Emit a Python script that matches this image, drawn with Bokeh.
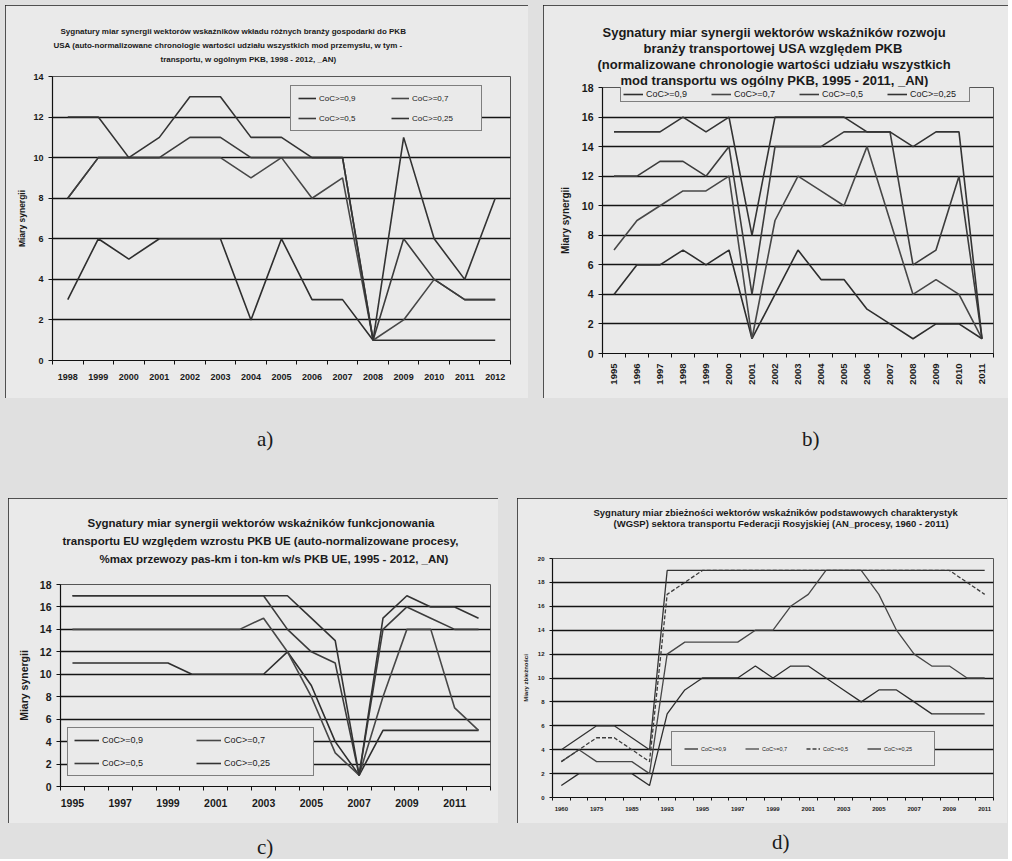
import math
from bokeh.plotting import figure
from bokeh.models import Title, Legend, LegendItem, FixedTicker, Range1d, Div
from bokeh.layouts import row, column
from bokeh.embed import file_html
from bokeh.resources import INLINE

FONT = "Liberation Sans"
PAGE_BG = "#e0e0e0"
PANEL_BG = "#eaeaea"
LINE_COLORS = ["#2e2e2e", "#474747", "#3c3c3c", "#333333"]

legend_labels = ["CoC>=0,9", "CoC>=0,7", "CoC>=0,5", "CoC>=0,25"]

# ---------------- panel a ----------------
a_title = ["Sygnatury miar synergii wektorów wskaźników wkładu różnych branży gospodarki do PKB",
           "USA (auto-normalizowane chronologie wartości udziału wszystkich mod przemysłu, w tym -",
           "transportu, w ogólnym PKB, 1998 - 2012, _AN)"]
a_years = list(range(1998, 2013))
a_s90 = [3, 6, 5, 6, 6, 6, 2, 6, 3, 3, 1, 1, 1, 1, 1]
a_s70 = [8, 10, 10, 10, 10, 10, 9, 10, 8, 9, 1, 2, 4, 3, 3]
a_s50 = [8, 10, 10, 10, 11, 11, 10, 10, 10, 10, 1, 6, 4, 3, 3]
a_s25 = [12, 12, 10, 11, 13, 13, 11, 11, 10, 10, 1, 11, 6, 4, 8]

# ---------------- panel b ----------------
b_title = ["Sygnatury miar synergii wektorów wskaźników rozwoju",
           "branży transportowej USA względem PKB",
           "(normalizowane chronologie wartości udziału wszystkich",
           "mod transportu ws ogólny PKB, 1995 - 2011, _AN)"]
b_years = list(range(1995, 2012))
b_s90 = [4, 6, 6, 7, 6, 7, 1, 4, 7, 5, 5, 3, 2, 1, 2, 2, 1]
b_s70 = [7, 9, 10, 11, 11, 12, 1, 9, 12, 11, 10, 14, 9, 4, 5, 4, 1]
b_s50 = [12, 12, 13, 13, 12, 14, 4, 14, 14, 14, 15, 15, 15, 6, 7, 12, 1]
b_s25 = [15, 15, 15, 16, 15, 16, 8, 16, 16, 16, 16, 15, 15, 14, 15, 15, 1]

# ---------------- panel c ----------------
c_title = ["Sygnatury miar synergii wektorów wskaźników funkcjonowania",
           "transportu EU względem wzrostu PKB UE (auto-normalizowane procesy,",
           "%max przewozy pas-km i ton-km w/s PKB UE, 1995 - 2012, _AN)"]
c_years = list(range(1995, 2013))
c_s90 = [11, 11, 11, 11, 11, 10, 10, 10, 10, 12, 9, 4, 1, 5, 5, 5, 5, 5]
c_s70 = [14, 14, 14, 14, 14, 14, 14, 14, 15, 12, 8, 3, 1, 8, 14, 14, 7, 5]
c_s50 = [17, 17, 17, 17, 17, 17, 17, 17, 17, 14, 12, 11, 1, 14, 16, 15, 14, 14]
c_s25 = [17, 17, 17, 17, 17, 17, 17, 17, 17, 17, 15, 13, 1, 15, 17, 16, 16, 15]

# ---------------- panel d ----------------
d_title = ["Sygnatury miar zbieżności wektorów wskaźników podstawowych charakterystyk",
           "(WGSP) sektora transportu Federacji Rosyjskiej (AN_procesy, 1960 - 2011)"]
d_periods = ["1960", "1970", "1975", "1980", "1985", "1990", "1993", "1994", "1995",
             "1996", "1997", "1998", "1999", "2000", "2001", "2002", "2003", "2004",
             "2005", "2006", "2007", "2008", "2009", "2010", "2011"]
d_s90 = [1, 2, 2, 2, 2, 1, 7, 9, 10, 10, 10, 11, 10, 11, 11, 10, 9, 8, 9, 9, 8, 7, 7, 7, 7]
d_s70 = [3, 4, 3, 3, 3, 2, 12, 13, 13, 13, 13, 14, 14, 16, 17, 19, 19, 19, 17, 14, 12, 11, 11, 10, 10]
d_s50 = [3, 4, 5, 5, 4, 3, 17, 18, 19, 19, 19, 19, 19, 19, 19, 19, 19, 19, 19, 19, 19, 19, 19, 18, 17]
d_s25 = [4, 5, 6, 6, 5, 4, 19, 19, 19, 19, 19, 19, 19, 19, 19, 19, 19, 19, 19, 19, 19, 19, 19, 19, 19]


def spacer(w, h):
    return Div(width=w, height=h, margin=0, styles={"background-color": PAGE_BG})


def title_kw(font):
    return dict(text_font=FONT, text_font_size=font, text_font_style="bold", text_color="#1a1a1a")


def make_fig(width, height, x_range, y_max, borders, titles, offsets, tfont, tgap, gap_to_frame):
    left, right, top, bottom = borders
    p = figure(width=width, height=height, x_range=x_range, y_range=Range1d(0, y_max),
               output_backend="svg", toolbar_location=None,
               min_border_left=left, min_border_right=right,
               min_border_top=top, min_border_bottom=bottom,
               background_fill_color=PANEL_BG, border_fill_color=PANEL_BG,
               outline_line_color="#555555", outline_line_width=1,
               styles={"outline": "1.5px solid #1c1c1c", "outline-offset": "-1px"})
    p.xgrid.visible = False
    p.ygrid.grid_line_color = "#141414"
    p.ygrid.grid_line_width = 1.3
    p.yaxis.ticker = FixedTicker(ticks=list(range(0, y_max + 1, 2)))
    for ax in (p.xaxis[0], p.yaxis[0]):
        ax.axis_line_color = "#111111"
        ax.axis_line_width = 1.2
        ax.major_tick_line_color = "#111111"
        ax.major_tick_in = 0
        ax.major_tick_out = 4
        ax.minor_tick_line_color = "#111111"
        ax.minor_tick_in = 0
        ax.minor_tick_out = 4
        ax.major_label_text_font = FONT
        ax.major_label_text_font_style = "bold"
        ax.major_label_text_color = "#1a1a1a"
        ax.axis_label_text_font = FONT
        ax.axis_label_text_font_style = "bold"
        ax.axis_label_text_color = "#1a1a1a"
    # title lines: p.title is outermost; first added Title sits next to the frame
    p.title.text = titles[0]
    p.title.align = "left"
    p.title.offset = offsets[0]
    p.title.standoff = tgap
    for k, v in title_kw(tfont).items():
        setattr(p.title, k, v)
    if gap_to_frame > 0:
        p.add_layout(Title(text=" ", standoff=gap_to_frame, text_font=FONT,
                           text_font_size="1px"), "above")
    for k in range(len(titles) - 1, 0, -1):
        p.add_layout(Title(text=titles[k], align="left", offset=offsets[k], standoff=tgap,
                           **title_kw(tfont)), "above")
    return p


def add_series(p, xs, series, width=1.6, dashes=None):
    rs = []
    for i, ys in enumerate(series):
        dash = dashes[i] if dashes else "solid"
        r = p.line(xs, ys, line_color=LINE_COLORS[i], line_width=width, line_dash=dash)
        rs.append(r)
    return rs


def add_legend(p, rs, loc, font, glyph_w, glyph_h, label_w, spacing, padding, nrows, standoff=3):
    items = [LegendItem(label=lab, renderers=[r]) for lab, r in zip(legend_labels, rs)]
    lg = Legend(items=items, location=loc, orientation="horizontal", nrows=nrows,
                label_text_font=FONT, label_text_font_size=font, label_text_color="#1a1a1a",
                glyph_width=glyph_w, glyph_height=glyph_h, label_width=label_w, label_height=glyph_h,
                label_standoff=standoff, spacing=spacing, padding=padding, margin=0,
                border_line_color="#111111", border_line_width=1.2,
                background_fill_color=PANEL_BG, background_fill_alpha=1.0)
    p.add_layout(lg, "center")
    return lg


# ---- a ----
pa = make_fig(523, 393, Range1d(1997.5, 2012.5), 14, (47, 18, 71, 38), a_title,
              [8, 1, 108], "8px", 3.3, 8)
pa.xaxis.ticker = FixedTicker(ticks=a_years, minor_ticks=[y - 0.5 for y in a_years] + [2012.5])
pa.xaxis.major_tick_line_color = None
pa.xaxis.major_label_text_font_size = "9px"
pa.xaxis.major_label_standoff = 9
pa.yaxis.major_label_text_font_size = "9px"
pa.yaxis.axis_label = "Miary synergii"
pa.yaxis.axis_label_text_font_size = "8.5px"
pa.yaxis.axis_label_standoff = 3
ra = add_series(pa, a_years, [a_s90, a_s70, a_s50, a_s25])
add_legend(pa, ra, (238, 229), "8px", 18, 10, 62, 10, 7, 2)

# ---- b ----
pb = make_fig(465, 393, Range1d(1994.5, 2011.5), 18, (59, 15, 82, 45), b_title,
              [0, 41, -5, 18], "13px", -1, 0)
pb.xaxis.ticker = FixedTicker(ticks=b_years, minor_ticks=[y - 0.5 for y in b_years] + [2011.5])
pb.xaxis.major_tick_line_color = None
pb.xaxis.major_label_orientation = math.pi / 2
pb.xaxis.major_label_text_font_size = "9.5px"
pb.xaxis.major_label_standoff = 6
pb.yaxis.major_label_text_font_size = "10.5px"
pb.yaxis.axis_label = "Miary synergii"
pb.yaxis.axis_label_text_font_size = "10px"
pb.yaxis.axis_label_standoff = 8
rb = add_series(pb, b_years, [b_s90, b_s70, b_s50, b_s25])
add_legend(pb, rb, (18, 251), "9px", 20, 10, 57, 8, 2, 1)

# ---- c ----
pc = make_fig(490, 325, Range1d(1994.5, 2012.5), 18, (52, 8, 86, 37), c_title,
              [27, 2, 39], "11.5px", 3.8, 14.5)
pc.xaxis.ticker = FixedTicker(ticks=c_years[::2], minor_ticks=[y - 0.5 for y in c_years] + [2012.5])
pc.xaxis.major_tick_line_color = None
pc.xaxis.major_label_text_font_size = "10.5px"
pc.xaxis.major_label_standoff = 8
pc.yaxis.major_label_text_font_size = "10.5px"
pc.yaxis.axis_label = "Miary synergii"
pc.yaxis.axis_label_text_font_size = "10.5px"
pc.yaxis.axis_label_standoff = 7
rc = add_series(pc, c_years, [c_s90, c_s70, c_s50, c_s25])
add_legend(pc, rc, (7, 10), "9px", 25, 12, 83, 11, 6, 2)

# ---- d ----
d_idx = list(range(len(d_periods)))
pd_ = make_fig(490, 325, Range1d(-0.5, len(d_periods) - 0.5), 20, (35, 14, 60, 26), d_title,
               [41, 61], "9.5px", -2.2, 27.7)
pd_.xaxis.ticker = FixedTicker(ticks=d_idx[::2], minor_ticks=[i - 0.5 for i in d_idx] + [d_idx[-1] + 0.5])
pd_.xaxis.major_label_overrides = {i: d_periods[i] for i in d_idx[::2]}
pd_.xaxis.major_tick_line_color = None
pd_.xaxis.major_label_text_font_size = "6px"
pd_.xaxis.major_label_standoff = 5
pd_.xaxis.minor_tick_out = 3
pd_.yaxis.major_tick_out = 3
pd_.yaxis.major_label_text_font_size = "6px"
pd_.yaxis.axis_label = "Miary zbieżności"
pd_.yaxis.axis_label_text_font_size = "6px"
pd_.yaxis.axis_label_standoff = 6
rd = add_series(pd_, d_idx, [d_s90, d_s70, d_s50, d_s25], width=1.3,
                dashes=["solid", "solid", "4 2", "solid"])
add_legend(pd_, rd, (119, 31), "5.5px", 14, 9, 38, 6, 12, 1)

cap_style = "position:absolute;font-family:'Liberation Serif';font-size:21px;line-height:21px;color:#1a1a1a"
caps_top = Div(width=1008, height=100, margin=0, styles={"background-color": PAGE_BG},
               text=f'<div style="position:relative;width:1008px;height:100px">'
                    f'<span style="{cap_style};left:257px;top:31px">a)</span>'
                    f'<span style="{cap_style};left:802px;top:31px">b)</span></div>')
caps_bot = Div(width=1008, height=36, margin=0, styles={"background-color": PAGE_BG},
               text=f'<div style="position:relative;width:1008px;height:36px">'
                    f'<span style="{cap_style};left:257px;top:14px">c)</span>'
                    f'<span style="{cap_style};left:772px;top:9px">d)</span></div>')

row1 = row(spacer(5, 393), column(pa), spacer(15, 393), column(pb))
row2 = row(spacer(8, 325), column(pc), spacer(19, 325), column(pd_))
layout = column(spacer(1008, 5), row1, caps_top, row2, caps_bot,
                styles={"background-color": PAGE_BG})

open("out.html", "w").write(file_html(layout, INLINE))
